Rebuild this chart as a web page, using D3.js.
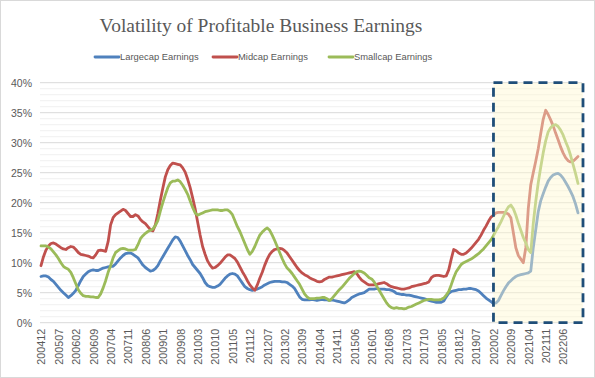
<!DOCTYPE html>
<html><head><meta charset="utf-8">
<script src="https://cdn.jsdelivr.net/npm/d3@7"></script>
<style>body{margin:0;background:#fff}svg{display:block}</style>
</head><body><svg id="c" width="595" height="378"></svg>
<script>
const title = "Volatility of Profitable Business Earnings";
const seriesNames = ["Largecap Earnings", "Midcap Earnings", "Smallcap Earnings"];
const tickLabels = ["200412","200507","200602","200609","200704","200711","200806","200901","200908","201003","201010","201105","201112","201207","201302","201309","201404","201411","201506","201601","201608","201703","201710","201805","201812","201907","202002","202009","202104","202111","202206"];
const yTicks = [0, 5, 10, 15, 20, 25, 30, 35, 40];
const highlightStart = "202002";

// monthly values in %, 200412 .. 202212
const largecap = [7.7,
 7.8,7.8,7.6,7.2,6.9,6.4,5.9,5.4,5.0,4.6,4.2,4.5,
 4.9,5.4,6.2,7.0,7.7,8.1,8.5,8.7,8.8,8.7,8.7,8.9,
 9.1,9.2,9.3,9.4,9.4,9.8,10.3,10.8,11.2,11.5,11.6,11.6,
 11.4,11.1,10.8,10.2,9.6,9.2,8.9,8.6,8.7,9.0,9.5,10.3,
 11.0,11.7,12.4,13.1,13.8,14.3,14.2,13.6,12.8,12.0,11.2,10.5,
 9.7,9.2,8.7,8.2,7.5,6.7,6.2,6.0,5.9,5.9,6.1,6.4,
 6.9,7.4,7.8,8.1,8.2,8.1,7.8,7.2,6.6,6.0,5.7,5.5,
 5.4,5.5,5.6,5.8,6.0,6.3,6.5,6.7,6.8,6.9,6.9,6.9,
 6.8,6.8,6.7,6.4,6.1,5.7,5.0,4.3,3.9,3.8,3.8,3.8,
 3.9,3.8,3.7,3.8,3.9,3.8,3.8,3.7,3.8,3.7,3.6,3.5,
 3.4,3.3,3.5,3.8,4.2,4.4,4.6,4.8,4.9,5.0,5.3,5.6,
 5.6,5.6,5.7,5.6,5.6,5.6,5.5,5.5,5.4,5.2,4.9,4.8,
 4.7,4.7,4.6,4.6,4.5,4.4,4.3,4.2,4.1,4.0,3.9,3.7,
 3.6,3.5,3.4,3.4,3.4,3.6,4.3,4.9,5.2,5.3,5.4,5.5,
 5.5,5.6,5.6,5.7,5.7,5.6,5.5,5.3,4.9,4.5,4.1,3.8,
 3.5,3.2,3.3,3.7,4.5,5.3,6.0,6.6,7.0,7.4,7.7,7.9,
 8.0,8.1,8.2,8.3,8.6,12.5,15.5,18.5,20.3,21.5,22.6,23.6,
 24.2,24.6,24.8,24.9,24.6,24.1,23.4,22.7,21.9,21.0,19.8,18.3];
const midcap = [9.5,
 11.0,12.1,12.8,13.2,13.3,13.1,12.8,12.5,12.3,12.2,12.5,12.7,
 12.6,12.2,11.7,11.4,11.3,11.2,11.1,10.9,10.8,11.3,12.0,12.1,
 12.0,11.9,13.5,16.3,17.5,18.0,18.3,18.6,18.9,18.7,18.2,17.7,
 17.7,18.0,17.8,17.2,16.8,16.5,16.0,15.5,15.3,16.3,18.2,20.4,
 22.4,24.3,25.5,26.2,26.6,26.5,26.4,26.3,25.8,25.1,23.9,22.5,
 20.8,19.0,16.8,14.6,12.7,11.4,10.3,9.6,9.1,9.2,9.5,9.9,
 10.4,10.9,11.3,11.3,11.0,10.7,10.1,9.3,8.5,7.8,7.0,6.3,
 5.8,5.4,6.3,7.4,8.4,9.6,10.6,11.4,11.9,12.2,12.3,12.4,
 12.3,12.0,11.6,11.0,10.4,9.8,9.2,8.7,8.3,8.0,7.8,7.5,
 7.3,7.1,6.9,6.8,6.9,7.2,7.4,7.6,7.6,7.7,7.8,7.9,
 8.0,8.1,8.2,8.3,8.4,8.5,8.2,7.6,7.1,6.8,6.5,6.3,
 6.3,6.3,6.4,6.5,6.6,6.7,6.5,6.2,6.0,5.9,5.8,5.7,
 5.6,5.6,5.7,5.8,6.0,6.1,6.2,6.3,6.4,6.5,6.6,6.8,
 7.5,7.8,7.9,7.9,7.8,7.7,7.8,8.8,10.6,12.2,12.0,11.6,
 11.4,11.4,11.6,12.0,12.4,12.9,13.4,13.9,14.6,15.4,16.1,16.9,
 17.6,17.9,18.3,18.4,18.4,18.4,18.3,18.1,17.5,15.0,12.5,11.2,
 10.6,10.0,12.5,19.0,23.0,25.0,26.9,29.0,31.5,33.9,35.4,34.7,
 33.8,32.8,31.6,30.5,29.3,28.3,27.5,27.0,26.8,26.9,27.3,27.7];
const smallcap = [12.8,
 12.8,12.8,12.6,12.3,11.8,11.3,10.7,10.0,9.4,9.1,8.9,8.4,
 7.5,6.5,5.5,4.9,4.5,4.4,4.4,4.3,4.3,4.2,4.2,4.8,
 5.8,7.0,8.4,9.5,10.8,11.7,12.0,12.3,12.4,12.3,12.1,12.1,
 12.1,12.2,13.0,14.0,14.5,14.9,15.2,15.4,15.6,16.2,17.0,18.6,
 20.0,21.3,22.5,23.3,23.6,23.6,23.8,23.5,22.9,22.2,21.4,20.3,
 19.2,18.3,17.9,18.1,18.3,18.5,18.6,18.7,18.8,18.8,18.8,18.7,
 18.7,18.8,18.8,18.5,18.0,17.0,16.0,15.2,14.2,13.2,12.2,11.4,
 11.9,12.7,13.7,14.6,15.1,15.5,15.8,15.4,14.6,13.7,12.7,11.7,
 10.7,9.8,9.1,8.7,8.2,7.6,7.0,6.4,5.6,4.8,4.3,4.0,
 4.0,4.0,4.1,4.1,4.2,4.2,4.0,3.7,4.0,4.5,5.0,5.5,
 5.9,6.4,6.9,7.4,7.8,8.2,8.5,8.6,8.5,8.3,7.9,7.5,
 7.3,6.8,6.1,5.4,4.7,4.0,3.3,2.8,2.5,2.4,2.5,2.4,
 2.4,2.3,2.4,2.6,2.7,2.9,3.1,3.3,3.5,3.7,3.8,3.9,
 3.9,3.8,3.8,3.8,3.9,4.1,4.6,5.2,6.3,7.5,8.5,9.1,
 9.7,10.0,10.2,10.4,10.6,10.9,11.2,11.5,11.9,12.3,12.8,13.3,
 13.8,14.5,15.3,16.0,16.8,17.7,18.6,19.3,19.6,19.0,17.9,16.6,
 15.4,14.2,13.3,12.2,11.7,16.5,20.2,23.3,25.9,28.3,30.3,31.8,
 32.5,32.9,33.0,32.7,32.1,31.3,30.2,29.2,27.9,26.4,24.9,23.2];

const colors = ["#4f81bd", "#c0504d", "#9bbb59"];
const series = [largecap, midcap, smallcap];

// monthly category labels from 200412 onward
const months = largecap.map((_, i) => {
  const t = 2004 * 12 + 11 + i;
  const y = Math.floor(t / 12), m = t % 12 + 1;
  return "" + y + (m < 10 ? "0" + m : m);
});

const svg = d3.select("#c");
svg.append("rect").attr("x", 0.5).attr("y", 0.5).attr("width", 594).attr("height", 377)
  .attr("fill", "#fff").attr("stroke", "#d9d9d9");

const x = d3.scalePoint().domain(months).range([41, 578]);
const y = d3.scaleLinear().domain([0, 40]).range([322.7, 82.7]);
const plotL = 40, plotR = 582;

// minor gridlines
svg.append("g").selectAll("line").data(d3.range(0, 41, 1).filter(v => v % 5 !== 0)).join("line")
  .attr("x1", plotL).attr("x2", plotR).attr("y1", d => y(d)).attr("y2", d => y(d))
  .attr("stroke", "#f0f0f0").attr("stroke-width", 1);
// major gridlines
svg.append("g").selectAll("line").data(yTicks).join("line")
  .attr("x1", plotL).attr("x2", plotR).attr("y1", d => y(d)).attr("y2", d => y(d))
  .attr("stroke", "#d9d9d9").attr("stroke-width", 1);

// y axis labels
const yAxis = svg.append("g").attr("transform", `translate(${plotL - 8},0)`)
  .call(d3.axisLeft(y).tickValues(yTicks).tickFormat(d => d + "%").tickSize(0).tickPadding(0));
yAxis.select(".domain").remove();
yAxis.selectAll("text").attr("font-family", "Liberation Sans, Arial, sans-serif")
  .attr("font-size", 10.5).attr("fill", "#595959");

// x axis labels
const xAxis = svg.append("g").attr("transform", `translate(0,${y(0) + 6})`)
  .call(d3.axisBottom(x).tickValues(tickLabels).tickSize(0).tickPadding(0));
xAxis.select(".domain").remove();
xAxis.selectAll("text")
  .attr("font-family", "Liberation Sans, Arial, sans-serif").attr("font-size", 10.8).attr("fill", "#595959")
  .attr("transform", "rotate(-90)").attr("text-anchor", "end")
  .attr("x", 0).attr("y", 0).attr("dy", "0.36em");

// lines
const line = d3.line().x((d, i) => x(months[i])).y(d => y(d));
series.forEach((s, k) => {
  svg.append("path").datum(s).attr("d", line).attr("fill", "none")
    .attr("stroke", colors[k]).attr("stroke-width", 2.8)
    .attr("stroke-linejoin", "round").attr("stroke-linecap", "round");
});

// highlight box
const hx0 = x(highlightStart), hx1 = x(months[months.length - 1]) + 5;
svg.append("rect").attr("x", hx0).attr("y", y(40)).attr("width", hx1 - hx0).attr("height", y(0) - y(40))
  .attr("fill", "#fff9d0").attr("fill-opacity", 0.45);
svg.append("rect").attr("x", hx0).attr("y", y(40)).attr("width", hx1 - hx0).attr("height", y(0) - y(40))
  .attr("fill", "none").attr("stroke", "#1f4e79").attr("stroke-width", 2.8)
  .attr("stroke-dasharray", "9,6");

// title
const t = svg.append("text").attr("x", 261).attr("y", 32).attr("text-anchor", "middle")
  .attr("font-family", "Liberation Serif, Times New Roman, serif").attr("font-size", 21)
  .attr("fill", "#595959").text(title);
const tl = t.node().getComputedTextLength();
t.attr("font-size", 21 * 323 / tl);

// legend
const legX = [95, 213, 329];
seriesNames.forEach((n, k) => {
  svg.append("line").attr("x1", legX[k]).attr("x2", legX[k] + 24).attr("y1", 57).attr("y2", 57)
    .attr("stroke", colors[k]).attr("stroke-width", 2.8).attr("stroke-linecap", "round");
  svg.append("text").attr("x", legX[k] + 25).attr("y", 57).attr("dy", "0.35em")
    .attr("font-family", "Liberation Sans, Arial, sans-serif").attr("font-size", 9.4)
    .attr("fill", "#595959").text(n);
});
</script></body></html>
